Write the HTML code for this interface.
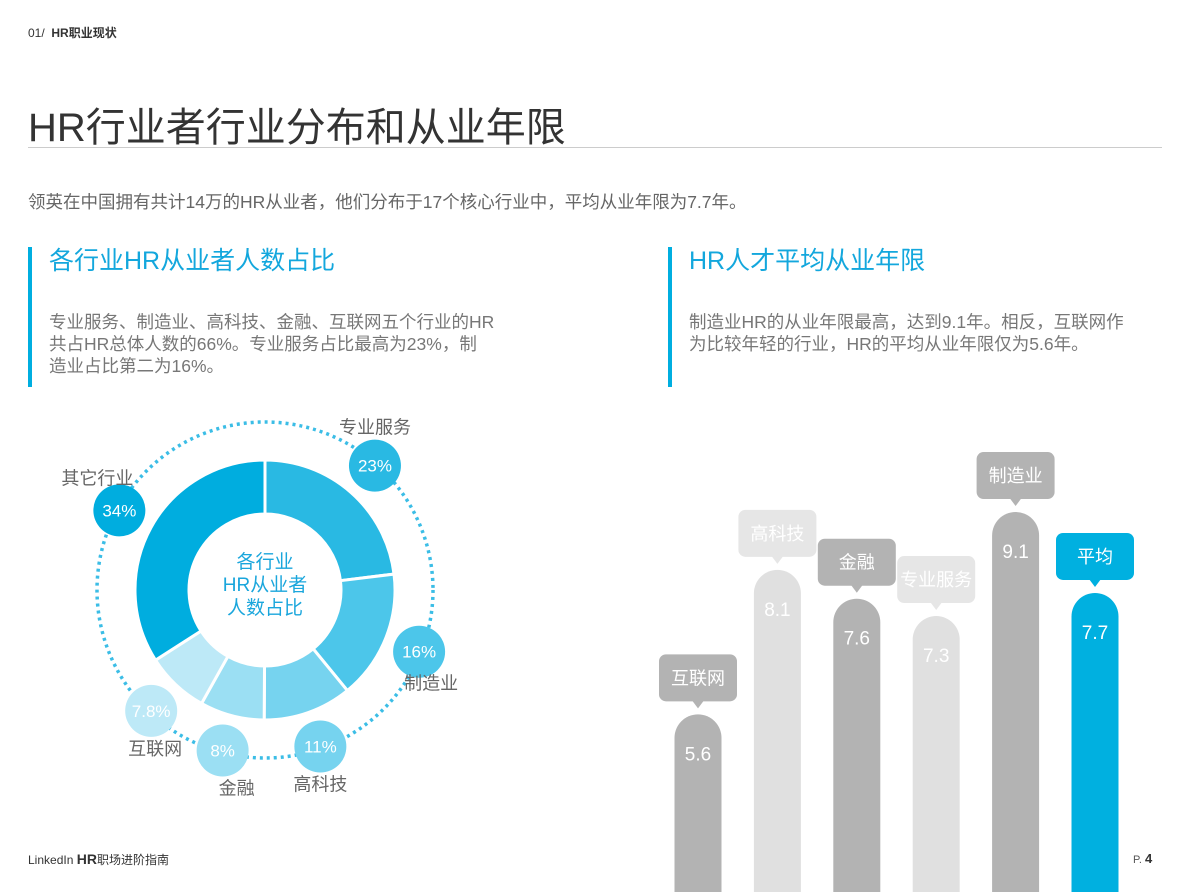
<!DOCTYPE html>
<html><head><meta charset="utf-8"><style>
body{margin:0;width:1190px;height:892px;overflow:hidden;background:#fff;font-family:"Liberation Sans","Noto Sans CJK SC",sans-serif;position:relative}
.a{position:absolute;white-space:nowrap}
.sec{position:absolute;border-left:4px solid #00aee0;height:140px;top:247px}
.sec h2{margin:0;font-weight:normal;font-size:25px;color:#13a7dd;padding-left:17px;line-height:28px}
.sec p{margin:36px 0 0;font-size:17.5px;color:#777;padding-left:17px;line-height:22px}
</style></head><body>
<div class="a" style="left:28px;top:24px;font-size:12px;color:#333">01/ &nbsp;<b>HR职业现状</b></div>
<div class="a" style="left:28px;top:95px;font-size:40px;color:#333">HR行业者行业分布和从业年限</div>
<div class="a" style="left:28px;top:147px;width:1134px;height:1px;background:#ccc"></div>
<div class="a" style="left:28px;top:189px;font-size:17.5px;color:#666">领英在中国拥有共计14万的HR从业者，他们分布于17个核心行业中，平均从业年限为7.7年。</div>
<div class="sec" style="left:28px;width:560px"><h2>各行业HR从业者人数占比</h2><p>专业服务、制造业、高科技、金融、互联网五个行业的HR<br>共占HR总体人数的66%。专业服务占比最高为23%，制<br>造业占比第二为16%。</p></div>
<div class="sec" style="left:668px;width:500px"><h2>HR人才平均从业年限</h2><p>制造业HR的从业年限最高，达到9.1年。相反，互联网作<br>为比较年轻的行业，HR的平均从业年限仅为5.6年。</p></div>
<svg id="donut" class="a" style="left:0;top:390px" width="560" height="420"></svg>
<svg id="bars" class="a" style="left:640px;top:440px" width="550" height="452"></svg>
<div class="a" style="left:28px;top:851px;font-size:12px;color:#333">LinkedIn <b style="font-size:14px">HR</b>职场进阶指南</div>
<div class="a" style="left:1133px;top:851px;font-size:11px;color:#555">P. <b style="font-size:13px;color:#333">4</b></div>
<script>
const NS="http://www.w3.org/2000/svg";
function mk(p,t,a){const e=document.createElementNS(NS,t);for(const k in a)e.setAttribute(k,a[k]);p.appendChild(e);return e;}
// donut data
const dNames=["专业服务","制造业","高科技","金融","互联网","其它行业"];
const dValues=[23,16,11,8,7.8,34];
const dLabels=["23%","16%","11%","8%","7.8%","34%"];
const dColors=["#29b9e3","#4cc6ea","#76d3ef","#9bdff3","#bde9f7","#00addf"];
const D=document.getElementById('donut');
const cx=265,cy=200,R=130,r=76,RB=166;
const dc=mk(D,'circle',{cx,cy,r:168,fill:'none',stroke:'#3bbde6','stroke-width':3.5,'stroke-dasharray':'3 4'});

const tot=dValues.reduce((a,b)=>a+b,0);
let acc=0;
const pt=(ang,rad)=>[cx+rad*Math.sin(ang),cy-rad*Math.cos(ang)];
const lblOff=[[0,-38],[12,32],[0,38],[14,38],[4,38],[-22,-32]];
dValues.forEach((v,i)=>{
 const a0=acc/tot*2*Math.PI;acc+=v;const a1=acc/tot*2*Math.PI;
 const [x0,y0]=pt(a0,R),[x1,y1]=pt(a1,R),[x2,y2]=pt(a1,r),[x3,y3]=pt(a0,r);
 const lg=(a1-a0)>Math.PI?1:0;
 const s=mk(D,'path',{d:`M${x0},${y0}A${R},${R} 0 ${lg} 1 ${x1},${y1}L${x2},${y2}A${r},${r} 0 ${lg} 0 ${x3},${y3}Z`,fill:dColors[i],stroke:'#fff','stroke-width':3});
 
 const am=(a0+a1)/2;const [bx,by]=pt(am,RB);
 const c=mk(D,'circle',{cx:bx,cy:by,r:26,fill:dColors[i]});
 
 const t=mk(D,'text',{x:bx,y:by+6,'text-anchor':'middle','font-size':17,fill:'#fff'});t.textContent=dLabels[i];
 
 const l=mk(D,'text',{x:bx+lblOff[i][0],y:by+lblOff[i][1]+6,'text-anchor':'middle','font-size':18,fill:'#666'});l.textContent=dNames[i];
 
});
["各行业","HR从业者","人数占比"].forEach((s,i)=>{const t=mk(D,'text',{x:cx,y:cy-22+i*23,'text-anchor':'middle','font-size':19,fill:'#1aa6dc'});t.textContent=s;
 });
// bar data
const bNames=["互联网","高科技","金融","专业服务","制造业","平均"];
const bValues=[5.6,8.1,7.6,7.3,9.1,7.7];
const bColors=["#b3b3b3","#e0e0e0","#b3b3b3","#e0e0e0","#b3b3b3","#00b0e0"];
const B=document.getElementById('bars');
const yS=v=>1038-57.8*v-440;const xC=i=>58+i*79.4;const bw=47;
bValues.forEach((v,i)=>{
 const x=xC(i),y=yS(v);
 const b=mk(B,'path',{d:`M${x-bw/2},460V${y+bw/2}A${bw/2},${bw/2} 0 0 1 ${x+bw/2},${y+bw/2}V460Z`,fill:bColors[i]});
 
 const t=mk(B,'text',{x,y:y+46,'text-anchor':'middle','font-size':19,fill:'#fff'});t.textContent=v.toFixed(1);
 
 const bc=i==5?'#00b0e0':(bColors[i]=='#e0e0e0'?'#e6e6e6':'#b3b3b3');
 const rr=mk(B,'rect',{x:x-39,y:y-60,width:78,height:47,rx:7,fill:bc});
 
 const g=mk(B,'path',{d:`M${x-6},${y-14}l6,8l6,-8z`,fill:bc});
 
 const l=mk(B,'text',{x,y:y-30,'text-anchor':'middle','font-size':18,fill:'#fff'});l.textContent=bNames[i];
 
});
</script>
</body></html>
